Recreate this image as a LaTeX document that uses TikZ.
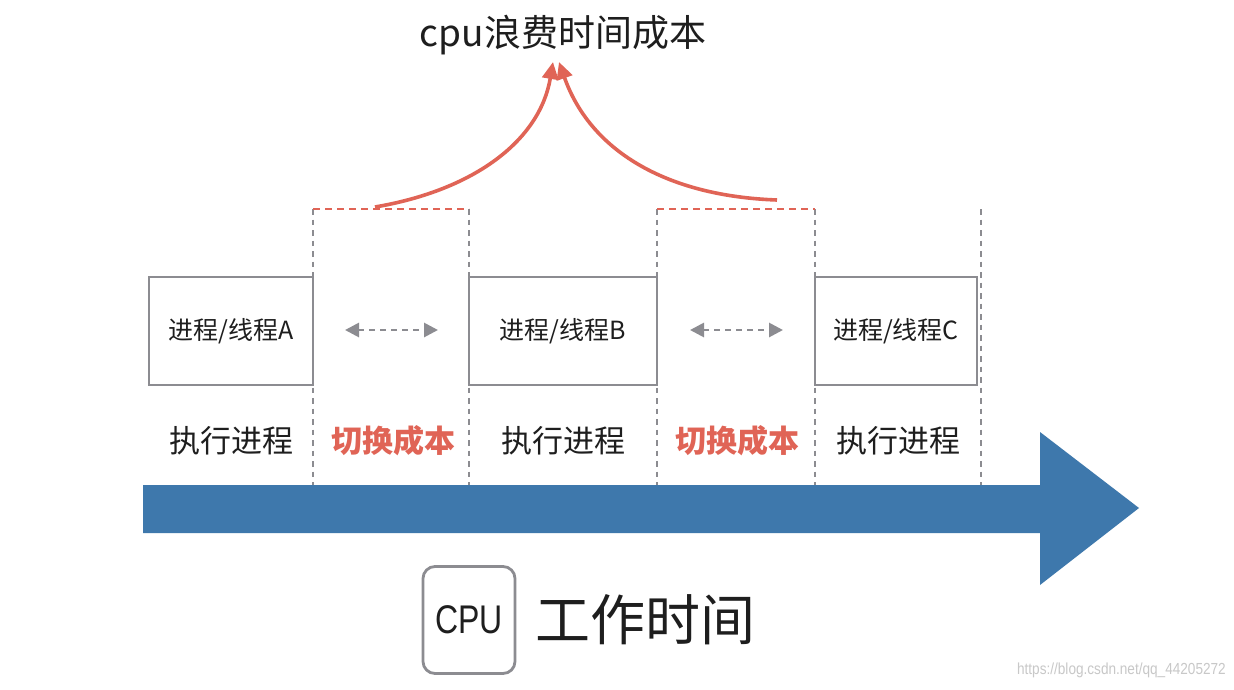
\documentclass[tikz,border=0pt]{standalone}
\usepackage{fontspec}
\setmainfont{Noto Sans CJK SC}
\newfontfamily\latinfont{Liberation Sans}
\usetikzlibrary{arrows.meta}
\definecolor{cred}{RGB}{224,100,86}
\definecolor{cgray}{RGB}{140,140,145}
\definecolor{cblue}{RGB}{62,120,172}
\definecolor{ctext}{RGB}{30,30,30}
\definecolor{cwm}{RGB}{200,200,200}
\tikzset{
  procbox/.style={draw=cgray,line width=2.8pt,fill=white,minimum height=108pt,inner sep=0pt,text=ctext,font=\fontsize{25}{25}\selectfont},
  vdash/.style={draw=cgray,line width=2.8pt,dash pattern=on 5.5pt off 5pt},
  rdash/.style={draw=cred,line width=2.8pt,dash pattern=on 7pt off 5pt},
  swarrow/.style={draw=cgray,line width=2.8pt,dash pattern=on 6pt off 5pt,{Triangle[length=14pt,width=14pt]}-{Triangle[length=14pt,width=14pt]}},
  costarrow/.style={draw=cred,line width=3.6pt,-{Triangle[length=17pt,width=16pt]}},
  runlabel/.style={text=ctext,font=\fontsize{31}{31}\selectfont},
  costlabel/.style={text=cred,font=\fontsize{31}{31}\selectfont\bfseries},
}
\begin{document}
\begin{tikzpicture}[x=1pt,y=-1pt]
\useasboundingbox (0,0) rectangle (1234,689);
\fill[white] (0,0) rectangle (1234,689);

% big blue arrow
\fill[cblue] (143,485) -- (1040,485) -- (1040,432) -- (1139,508) -- (1040,585) -- (1040,533) -- (143,533) -- cycle;

% dashed separators
\coordinate (t1) at (313,209); \coordinate (b1) at (313,485);
\coordinate (t2) at (469,209); \coordinate (b2) at (469,485);
\coordinate (t3) at (657,209); \coordinate (b3) at (657,485);
\coordinate (t4) at (815,209); \coordinate (b4) at (815,485);
\coordinate (t5) at (981,209); \coordinate (b5) at (981,485);
\draw[vdash] (t1) -- (b1);
\draw[vdash] (t2) -- (b2);
\draw[vdash] (t3) -- (b3);
\draw[vdash] (t4) -- (b4);
\draw[vdash] (t5) -- (b5);
\draw[rdash] (t1) -- (t2);
\draw[rdash] (t3) -- (t4);

% process boxes
\node[procbox,minimum width=164pt] (pa) at (231,331) {进程/线程A};
\node[procbox,minimum width=188pt] (pb) at (563,331) {进程/线程B};
\node[procbox,minimum width=162pt] (pc) at (896,331) {进程/线程C};

% switch arrows
\coordinate (s1l) at (345,330); \coordinate (s1r) at (438,330);
\coordinate (s2l) at (690,330); \coordinate (s2r) at (783,330);
\draw[swarrow] (s1l) -- (s1r);
\draw[swarrow] (s2l) -- (s2r);

% labels
\node[runlabel] (r1) at (231,441) {执行进程};
\node[costlabel] (c1) at (393,441) {切换成本};
\node[runlabel] (r2) at (563,441) {执行进程};
\node[costlabel] (c2) at (737,441) {切换成本};
\node[runlabel] (r3) at (898,441) {执行进程};

% title and red curves
\node[text=ctext,font=\fontsize{37}{37}\selectfont] (title) at (563,35) {cpu浪费时间成本};
\coordinate (cs1) at (375,207);
\coordinate (cs2) at (777,200);
\coordinate (ce1) at (553,62);
\coordinate (ce2) at (559,62);
\draw[costarrow] (cs1) .. controls (475,190) and (540,140) .. (ce1);
\draw[costarrow] (cs2) .. controls (665,196) and (590,150) .. (ce2);

% CPU box
\node[draw=cgray,line width=2.8pt,rounded corners=12pt,minimum width=92pt,minimum height=107pt,inner sep=0pt,text=ctext,font=\latinfont\fontsize{40}{40}\selectfont] (cpu) at (469,620) {\scalebox{0.8}[1]{CPU}};
\node[anchor=west,text=ctext,font=\fontsize{55}{55}\selectfont,inner sep=0pt] (work) at (535,620) {工作时间};

% watermark
\node[anchor=east,text=cwm,font=\latinfont\fontsize{16}{16}\selectfont,inner sep=0pt] (wm) at (1226,670) {\scalebox{0.85}[1]{https://blog.csdn.net/qq\_44205272}};
\end{tikzpicture}
\end{document}
